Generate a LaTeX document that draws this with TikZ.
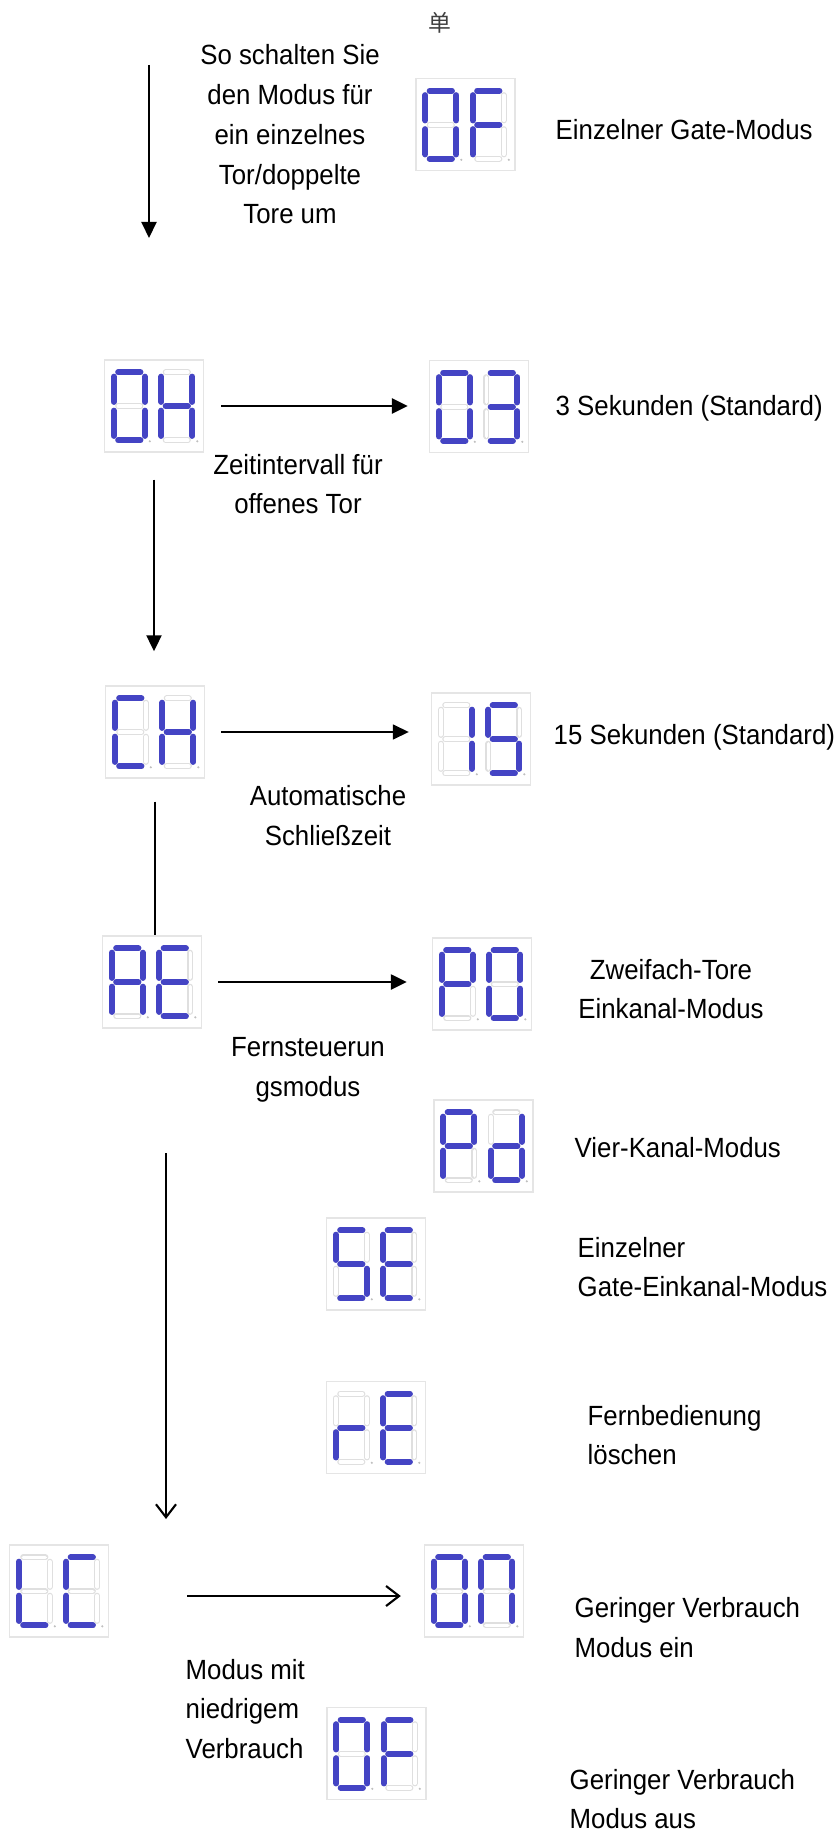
\documentclass[tikz,border=0pt]{standalone}
\usepackage{fontspec}
\setmainfont{Liberation Sans}[FakeStretch=0.93]
\newfontfamily\cjkfont{Noto Sans CJK SC}
\usetikzlibrary{arrows.meta}
\definecolor{segblue}{RGB}{68,68,196}
\tikzset{dispbox/.style={draw=gray!20,line width=0.4pt,minimum width=0.99cm,minimum height=0.92cm,inner sep=0pt},
 segon/.style={draw=segblue,line width=0.062cm,line cap=round},
 segoff/.style={draw=gray!25,line width=0.062cm,line cap=round},
 segoffin/.style={draw=white,line width=0.036cm,line cap=round},
 lbl/.style={font={\fontsize{7.9}{11.3}\selectfont},inner sep=0pt},
 flow/.style={line width=0.6pt,-{Triangle[length=0.16cm,width=0.15cm]}},
 flowopen/.style={line width=0.6pt,-{Straight Barb[length=0.13cm,width=0.2cm]}},
 }
% one digit of the display, #1 = origin, #2 = lit segments
\newcommand{\segdigit}[2]{%
  \begin{scope}[shift={#1}]
    \coordinate (a1) at (0.045,0);      \coordinate (a2) at (0.265,0);
    \coordinate (b1) at (0.31,-0.045);  \coordinate (b2) at (0.31,-0.295);
    \coordinate (c1) at (0.31,-0.385);  \coordinate (c2) at (0.31,-0.635);
    \coordinate (d1) at (0.045,-0.68);  \coordinate (d2) at (0.265,-0.68);
    \coordinate (e1) at (0,-0.385);     \coordinate (e2) at (0,-0.635);
    \coordinate (f1) at (0,-0.045);     \coordinate (f2) at (0,-0.295);
    \coordinate (g1) at (0.045,-0.34);  \coordinate (g2) at (0.265,-0.34);
    \foreach \s in {a,b,c,d,e,f,g} {\draw[segoff] (\s1) -- (\s2); \draw[segoffin] (\s1) -- (\s2);}
    \foreach \s in {#2} {\draw[segon] (\s1) -- (\s2);}
    \fill[gray!50] (0.36,-0.69) circle (0.012);
  \end{scope}}
% two-digit display, #1 = name, #2 = position
\newcommand{\segdisplay}[4]{%
  \node[dispbox] (#1) at (#2) {};
  \begin{scope}[shift={(#1.north west)}]
    \segdigit{(0.10,-0.13)}{#3}
    \segdigit{(0.575,-0.13)}{#4}
  \end{scope}}

\begin{document}
\begin{tikzpicture}
    \useasboundingbox (0,0) rectangle (8.37,-18.37);
    % displays
    \segdisplay{topof}{4.655,-1.245}{a,b,c,d,e,f}{a,e,f,g}
    \segdisplay{oh}{1.54,-4.06}{a,b,c,d,e,f}{b,c,e,f,g}
    \segdisplay{othree}{4.79,-4.065}{a,b,c,d,e,f}{a,b,c,d,g}
    \segdisplay{ch}{1.55,-7.32}{a,d,e,f}{b,c,e,f,g}
    \segdisplay{fifteen}{4.81,-7.39}{b,c}{a,c,d,f,g}
    \segdisplay{ae}{1.52,-9.82}{a,b,c,e,f,g}{a,d,e,f,g}
    \segdisplay{pzero}{4.82,-9.84}{a,b,e,f,g}{a,b,c,d,e,f}
    \segdisplay{pd}{4.835,-11.46}{a,b,e,f,g}{b,c,d,e,g}
    \segdisplay{se}{3.76,-12.64}{a,c,d,f,g}{a,d,e,f,g}
    \segdisplay{re}{3.76,-14.275}{e,g}{a,d,e,f,g}
    \segdisplay{lc}{0.59,-15.91}{d,e,f}{a,d,e,f}
    \segdisplay{on}{4.74,-15.91}{a,b,c,d,e,f}{a,b,c,e,f}
    \segdisplay{botof}{3.765,-17.535}{a,b,c,d,e,f}{a,e,f,g}

    % labels
    \node[font={\cjkfont\fontsize{6.5}{7}\selectfont},text=black!75] (zh) at (4.40,-0.23) {单};
    \node[lbl,align=center] (switchtxt) at (2.90,-1.345) {So schalten Sie\\den Modus für\\ein einzelnes\\Tor/doppelte\\Tore um};
    \node[lbl,anchor=west] (singletxt) at (5.55,-1.30) {Einzelner Gate-Modus};
    \node[lbl,anchor=west] (threetxt) at (5.55,-4.08) {3 Sekunden (Standard)};
    \node[lbl,align=center] (opentxt) at (2.98,-4.84) {Zeitintervall für\\offenes Tor};
    \node[lbl,anchor=west] (fifteentxt) at (5.53,-7.37) {15 Sekunden (Standard)};
    \node[lbl,align=center] (closetxt) at (3.28,-8.155) {Automatische\\Schließzeit};
    \node[lbl,align=center] (dualtxt) at (6.71,-9.89) {Zweifach-Tore\\Einkanal-Modus};
    \node[lbl,align=center] (remotetxt) at (3.08,-10.70) {Fernsteuerun\\gsmodus};
    \node[lbl,anchor=west] (fourtxt) at (5.74,-11.48) {Vier-Kanal-Modus};
    \node[lbl,anchor=west,align=left] (singlechtxt) at (5.77,-12.67) {Einzelner\\Gate-Einkanal-Modus};
    \node[lbl,anchor=west,align=left] (cleartxt) at (5.87,-14.35) {Fernbedienung\\löschen};
    \node[lbl,anchor=west,align=left] (ontxt) at (5.74,-16.275) {Geringer Verbrauch\\Modus ein};
    \node[lbl,anchor=west,align=left] (lowtxt) at (1.85,-17.09) {Modus mit\\niedrigem\\Verbrauch};
    \node[lbl,anchor=west,align=left] (offtxt) at (5.69,-17.99) {Geringer Verbrauch\\Modus aus};

    % arrows
    \coordinate (topstart) at (1.49,-0.65);
    \coordinate (topend) at (1.49,-2.38);
    \draw[flow] (topstart) -- (topend);
    \draw[flow,shorten <=0.27cm,shorten >=0.34cm] (oh.south) -- (oh.south |- ch.north);
    \draw[line width=0.6pt,shorten <=0.23cm] (ch.south) -- (ch.south |- ae.north);
    \coordinate (longstart) at (1.66,-11.53);
    \coordinate (longend) at (1.66,-15.19);
    \draw[flowopen] (longstart) -- (longend);
    \draw[flow,line width=0.8pt,shorten <=0.17cm,shorten >=0.21cm] (oh.east) -- (oh.east -| othree.west);
    \draw[flow,line width=0.45pt,shorten <=0.16cm,shorten >=0.22cm] (ch.east) -- (ch.east -| fifteen.west);
    \draw[flow,line width=0.7pt,shorten <=0.16cm,shorten >=0.25cm] (ae.east) -- (ae.east -| pzero.west);
    \draw[flowopen,shorten <=0.78cm,shorten >=0.23cm] ([yshift=-0.05cm]lc.east) -- ([yshift=-0.05cm]lc.east -| on.west);
\end{tikzpicture}
\end{document}
